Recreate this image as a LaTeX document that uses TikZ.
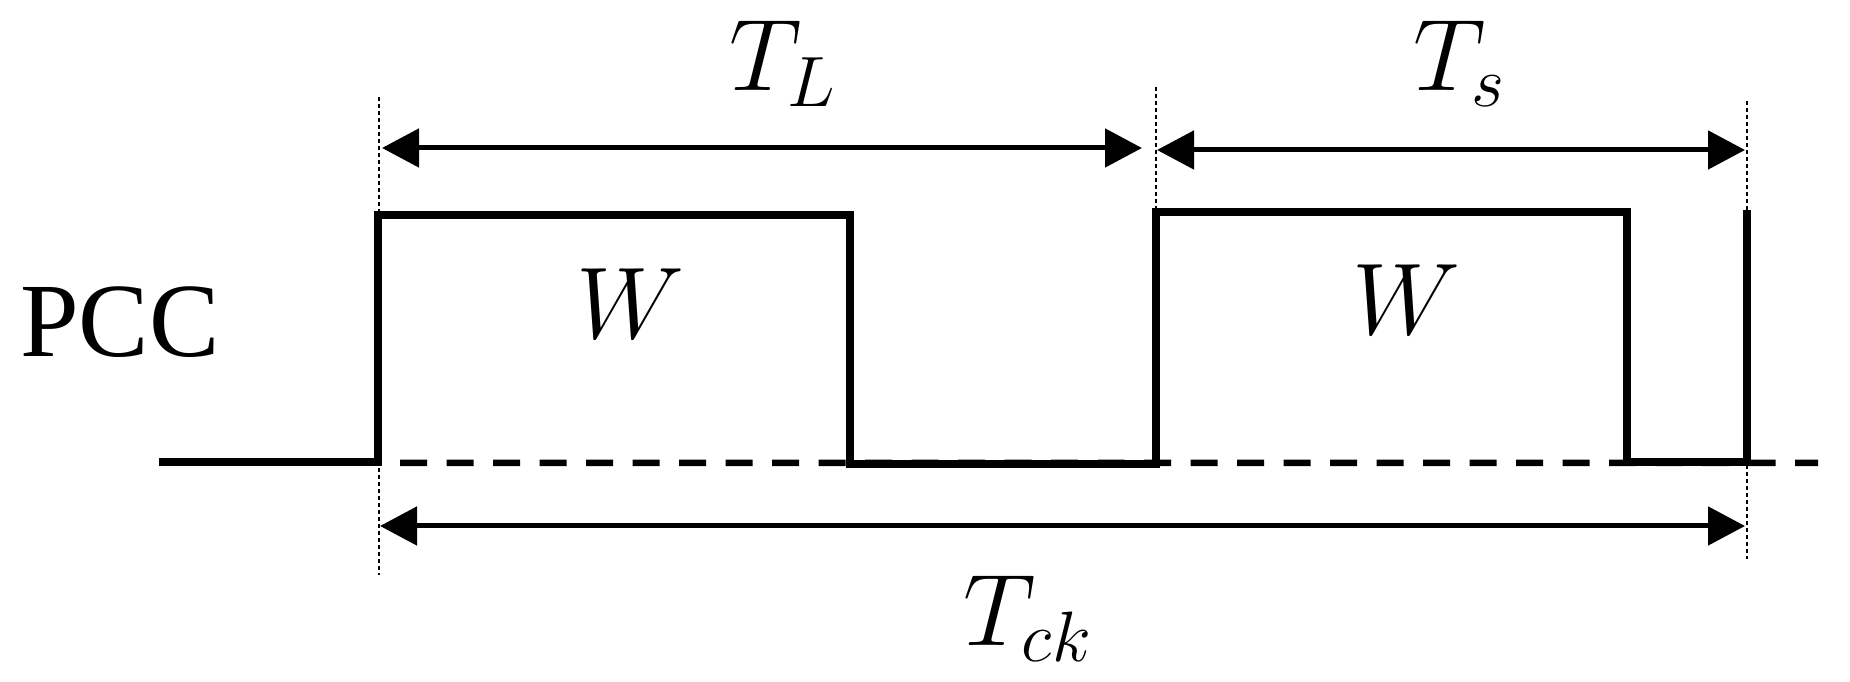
\RequirePackage{fix-cm}
\documentclass[tikz,border=0pt]{standalone}
\usepackage{amsmath,amssymb}
\usepackage{fontspec}
\usepackage{xcolor}
\usepackage{tikz}
\usetikzlibrary{calc,arrows.meta}
\newfontfamily\pccfont{Liberation Serif}
\definecolor{ink}{HTML}{000000}
\tikzset{
  pulse/.style={draw=ink, line width=0.085cm, line join=miter},
  zeroline/.style={draw=ink, line width=0.065cm, dash pattern=on 0.27cm off 0.195cm},
  guide/.style={draw=ink, line width=0.02cm, dash pattern=on 0.04cm off 0.03cm},
  span/.style={draw=ink, line width=0.05cm, {Triangle[length=0.37cm,width=0.38cm]}-{Triangle[length=0.37cm,width=0.38cm]}},
  lbl/.style={text=ink, font=\fontsize{29}{34}\selectfont, inner sep=0pt, anchor=base},
  sig/.style={text=ink, font=\pccfont\fontsize{30}{36}\selectfont, inner sep=0pt, anchor=base}
}
\begin{document}
\begin{tikzpicture}
  \useasboundingbox (0,0) rectangle (18.5,6.82);
  \coordinate (S) at (1.59,2.20);
  \coordinate (R1) at (3.78,2.20);
  \coordinate (H1) at (3.78,4.67);
  \coordinate (F1) at (8.50,4.67);
  \coordinate (L1) at (8.50,2.18);
  \coordinate (R2) at (11.56,2.18);
  \coordinate (H2) at (11.56,4.70);
  \coordinate (F2) at (16.27,4.70);
  \coordinate (L2) at (16.27,2.20);
  \coordinate (E) at (17.47,2.20);
  \coordinate (EH) at (17.47,4.72);
  \coordinate (Z) at (18.18,2.19);

  % reference level
  \draw[zeroline] ($(R1)+(0.22,-0.01)$) -- (Z);

  % guides
  \coordinate (G1t) at (3.79,5.85);
  \coordinate (G1b) at (3.79,1.07);
  \coordinate (G2t) at (11.56,5.95);
  \coordinate (G3t) at (17.47,5.81);
  \coordinate (G3b) at (17.47,1.23);
  \draw[guide] (G1t) -- (G1b);
  \draw[guide] (G2t) -- (H2);
  \draw[guide] (G3t) -- (G3b);

  % waveform
  \draw[pulse] (S) -- (R1) -- (H1) -- (F1) -- (L1) -- (R2) -- (H2) -- (F2) -- (L2) -- (E) -- (EH);

  % spans
  \coordinate (AL1) at (3.82,5.34);
  \coordinate (AL2) at (11.42,5.34);
  \coordinate (AS1) at (11.57,5.32);
  \coordinate (AS2) at (17.45,5.32);
  \coordinate (AC1) at (3.80,1.56);
  \coordinate (AC2) at (17.45,1.56);
  \draw[span] (AL1) -- (AL2);
  \draw[span] (AS1) -- (AS2);
  \draw[span] (AC1) -- (AC2);

  \node[lbl] (tl) at (7.83,5.91) {$T_L$};
  \node[lbl] (ts) at (14.60,5.91) {$T_s$};
  \node[lbl] (tck) at (10.28,0.36) {$T_{ck}$};
  \node[lbl] (w1) at (6.31,3.43) {$W$};
  \node[lbl] (w2) at (14.07,3.47) {$W$};
  \node[sig] (pcc) at (1.20,3.25) {PCC};
\end{tikzpicture}
\end{document}
